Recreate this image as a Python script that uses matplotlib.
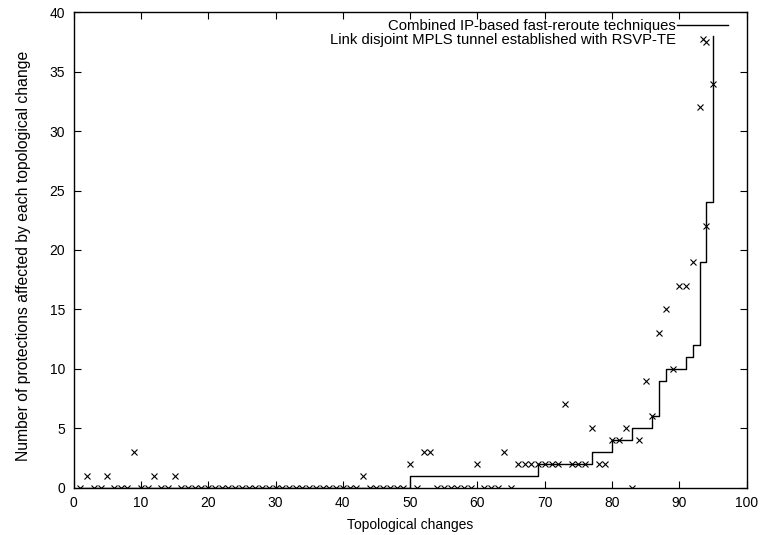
import matplotlib
matplotlib.use("Agg")
import matplotlib.pyplot as plt

# topological change index (1..95)
changes = list(range(1, 96))

# sorted number of protections affected, combined IP-based fast-reroute
ip_based = [
    0, 0, 0, 0, 0, 0, 0, 0, 0, 0,
    0, 0, 0, 0, 0, 0, 0, 0, 0, 0,
    0, 0, 0, 0, 0, 0, 0, 0, 0, 0,
    0, 0, 0, 0, 0, 0, 0, 0, 0, 0,
    0, 0, 0, 0, 0, 0, 0, 0, 0, 1,
    1, 1, 1, 1, 1, 1, 1, 1, 1, 1,
    1, 1, 1, 1, 1, 1, 1, 1, 2, 2,
    2, 2, 2, 2, 2, 2, 3, 3, 3, 4,
    4, 4, 5, 5, 5, 6, 9, 10, 10, 10,
    11, 12, 19, 24, 38,
]

# link disjoint MPLS tunnels (RSVP-TE), same change order
mpls = [
    0, 1, 0, 0, 1, 0, 0, 0, 3, 0,
    0, 1, 0, 0, 1, 0, 0, 0, 0, 0,
    0, 0, 0, 0, 0, 0, 0, 0, 0, 0,
    0, 0, 0, 0, 0, 0, 0, 0, 0, 0,
    0, 0, 1, 0, 0, 0, 0, 0, 0, 2,
    0, 3, 3, 0, 0, 0, 0, 0, 0, 2,
    0, 0, 0, 3, 0, 2, 2, 2, 2, 2,
    2, 2, 7, 2, 2, 2, 5, 2, 2, 4,
    4, 5, 0, 4, 9, 6, 13, 15, 10, 17,
    17, 19, 32, 22, 34,
]
# one more MPLS point drawn at change 94
mpls_extra_x = [94]
mpls_extra_y = [37.5]

plt.rcParams['font.family'] = ['Liberation Sans', 'DejaVu Sans']
plt.rcParams['font.size'] = 10

fig = plt.figure(figsize=(7.61, 5.35), dpi=100)
ax = fig.add_axes([73.6 / 761, 1 - 487.6 / 535, (746.7 - 73.6) / 761, (487.6 - 12.3) / 535])

ax.plot(changes, ip_based, drawstyle='steps-post', color='black', lw=1.0,
        label='Combined IP-based fast-reroute techniques')
ax.plot(changes + mpls_extra_x, mpls + mpls_extra_y, linestyle='none', marker='x',
        color='black', markersize=5, markeredgewidth=0.8,
        label='Link disjoint MPLS tunnel established with RSVP-TE')

ax.set_xlim(0, 100)
ax.set_ylim(0, 40)
ax.set_xticks(range(0, 101, 10))
ax.set_yticks(range(0, 41, 5))
ax.tick_params(direction='in', top=True, right=True, length=5, width=0.8, labelsize=10, pad=6)
for s in ax.spines.values():
    s.set_linewidth(1.0)

ax.set_xlabel('Topological changes', fontsize=10, labelpad=6)
ax.set_ylabel('Number of protections affected by each topological change', fontsize=11.3)
ax.yaxis.set_label_coords(-0.063, 0.487)

leg = ax.legend(loc='upper right', bbox_to_anchor=(0.9722, 0.986), frameon=False,
                markerfirst=False, borderpad=0, borderaxespad=0, handlelength=3.4,
                handletextpad=0.1, labelspacing=0.0, fontsize=10.7)

fig.savefig('out.png', dpi=100)
